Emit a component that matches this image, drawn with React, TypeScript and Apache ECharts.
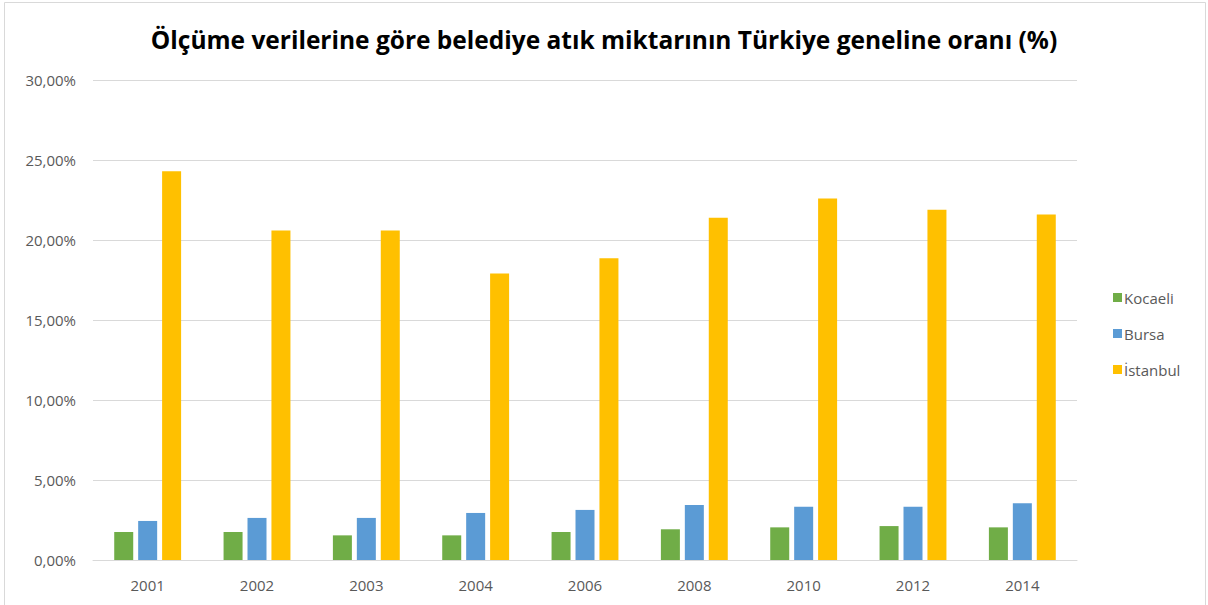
import React, { useEffect, useRef } from "react";
import * as echarts from "echarts";

const years = ["2001", "2002", "2003", "2004", "2006", "2008", "2010", "2012", "2014"];
const kocaeli = [1.75, 1.75, 1.54, 1.54, 1.75, 1.92, 2.04, 2.12, 2.04];
const bursa = [2.44, 2.63, 2.63, 2.94, 3.13, 3.44, 3.33, 3.33, 3.54];
const istanbul = [24.3, 20.6, 20.6, 17.9, 18.86, 21.39, 22.6, 21.89, 21.6];
const seriesNames = ["Kocaeli", "Bursa", "İstanbul"];
const colors = ["#70AD47", "#5B9BD5", "#FFC000"];

export default function App() {
  const ref = useRef<HTMLDivElement>(null);
  useEffect(() => {
    document.body.style.margin = "0";
    const chart = echarts.init(ref.current!, null, { renderer: "svg" });
    const font = "'Open Sans', 'Noto Sans', sans-serif";
    const dataSets = [kocaeli, bursa, istanbul];
    chart.setOption({
      animation: false,
      backgroundColor: "#ffffff",
      title: {
        text: "Ölçüme verilerine göre belediye atık miktarının Türkiye geneline oranı (%)",
        left: "center",
        top: 22,
        textStyle: { fontFamily: font, fontSize: 24.5, fontWeight: "bold", color: "#000000" },
      },
      legend: {
        orient: "vertical",
        left: 1108,
        top: 285,
        itemWidth: 9,
        itemHeight: 9,
        itemGap: 21,
        icon: "rect",
        textStyle: { fontFamily: font, fontSize: 15, color: "#595959", padding: [0, 0, 0, -3] },
        data: seriesNames,
      },
      grid: { left: 93, right: 131, top: 80, bottom: 45 },
      xAxis: {
        type: "category",
        data: years,
        axisLine: { lineStyle: { color: "#d9d9d9" } },
        axisTick: { show: false },
        axisLabel: { fontFamily: font, fontSize: 15, color: "#595959", margin: 17 },
      },
      yAxis: {
        type: "value",
        min: 0,
        max: 30,
        interval: 5,
        axisLine: { show: false },
        axisTick: { show: false },
        splitLine: { lineStyle: { color: "#d9d9d9" } },
        axisLabel: {
          fontFamily: font,
          fontSize: 15,
          color: "#595959",
          margin: 17,
          formatter: (v: number) => v.toFixed(2).replace(".", ",") + "%",
        },
      },
      series: seriesNames.map((name, i) => ({
        name,
        type: "bar",
        data: dataSets[i],
        barWidth: 19,
        barGap: "26%",
        itemStyle: { color: colors[i] },
      })),
      graphic: [
        {
          type: "rect",
          shape: { x: 4.5, y: 2.5, width: 1201, height: 610 },
          style: { fill: "none", stroke: "#d9d9d9", lineWidth: 1 },
          silent: true,
        },
      ],
    });
    return () => chart.dispose();
  }, []);
  return <div ref={ref} style={{ width: 1208, height: 605 }} />;
}
